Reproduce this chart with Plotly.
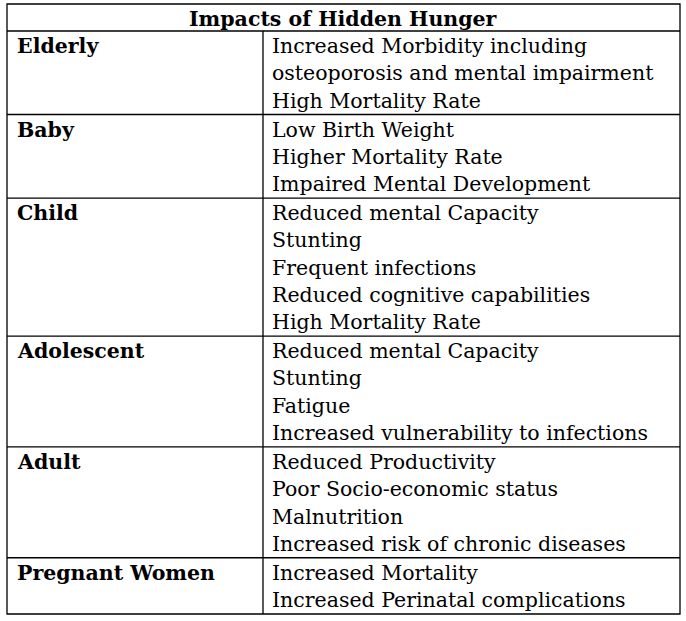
import plotly.graph_objects as go

title = "Impacts of Hidden Hunger"
groups = ["Elderly", "Baby", "Child", "Adolescent", "Adult", "Pregnant Women"]
impacts = [
    ["Increased Morbidity including", "osteoporosis and mental impairment", "High Mortality Rate"],
    ["Low Birth Weight", "Higher Mortality Rate", "Impaired Mental Development"],
    ["Reduced mental Capacity", "Stunting", "Frequent infections", "Reduced cognitive capabilities", "High Mortality Rate"],
    ["Reduced mental Capacity", "Stunting", "Fatigue", "Increased vulnerability to infections"],
    ["Reduced Productivity", "Poor Socio-economic status", "Malnutrition", "Increased risk of chronic diseases"],
    ["Increased Mortality", "Increased Perinatal complications"],
]

W, H = 686, 621
L, R, T, B = 7, 680, 4, 614
HEAD = 31
COLX = 263
FONT = "DejaVu Serif"
FS = 20.5

fig = go.Figure()
shapes = []
ann = []
line = dict(color="black", width=1.3)
shapes.append(dict(type="rect", x0=L, x1=R, y0=T, y1=B, line=line))
shapes.append(dict(type="line", x0=L, x1=R, y0=HEAD, y1=HEAD, line=line))
shapes.append(dict(type="line", x0=COLX, x1=COLX, y0=HEAD, y1=B, line=line))
ann.append(dict(x=(L + R) / 2, y=(T + HEAD) / 2 + 1, text="<b>" + title + "</b>",
                xanchor="center", yanchor="middle", showarrow=False,
                font=dict(family=FONT, size=FS, color="black")))
total_lines = sum(len(x) for x in impacts)
unit = (B - HEAD) / (total_lines + 0.06 * len(impacts))
y = HEAD
for g, items in zip(groups, impacts):
    h = unit * (len(items) + 0.06)
    ann.append(dict(x=L + 8, y=y + 15, text="<b>" + g + "</b>", xanchor="left", yanchor="middle",
                    showarrow=False, font=dict(family=FONT, size=FS, color="black")))
    for i, t in enumerate(items):
        ann.append(dict(x=COLX + 7, y=y + 15 + i * unit, text=t, xanchor="left", yanchor="middle",
                        showarrow=False, font=dict(family=FONT, size=FS, color="black")))
    y += h
    if y < B - 1:
        shapes.append(dict(type="line", x0=L, x1=R, y0=y, y1=y, line=line))

fig.update_layout(width=W, height=H, margin=dict(l=0, r=0, t=0, b=0),
                  paper_bgcolor="white", plot_bgcolor="white",
                  xaxis=dict(range=[0, W], visible=False, fixedrange=True),
                  yaxis=dict(range=[H, 0], visible=False, fixedrange=True),
                  shapes=shapes, annotations=ann, showlegend=False)
fig.write_html("out.html", config={"displayModeBar": False})
with open("out.html", encoding="utf-8") as f:
    html = f.read()
html = html.replace("<body>", "<body style=\"margin:0;overflow:hidden\">", 1)
with open("out.html", "w", encoding="utf-8") as f:
    f.write(html)
